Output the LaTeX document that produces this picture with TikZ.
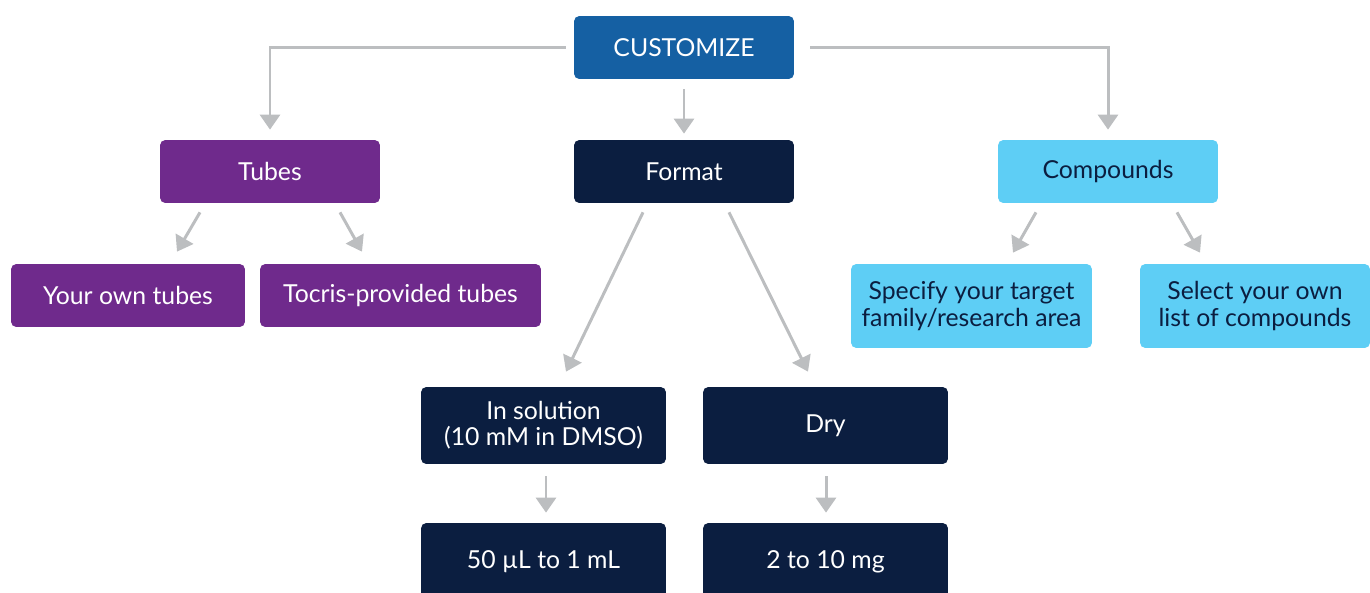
\documentclass[tikz,border=0pt]{standalone}
\usepackage{fontspec}
\setmainfont{Lato}
\usetikzlibrary{calc,arrows.meta}

\definecolor{custblue}{HTML}{1560A3}
\definecolor{tubepurple}{HTML}{6F2A8C}
\definecolor{navy}{HTML}{0B1E40}
\definecolor{skyblue}{HTML}{5ECEF5}
\definecolor{linegray}{HTML}{BCBEC0}

\tikzset{
  box/.style={rounded corners=3pt, inner sep=0pt, align=center,
    font=\fontsize{14.1}{15}\selectfont, minimum height=1.26cm},
  bluebox/.style={box, fill=custblue, text=white},
  purplebox/.style={box, fill=tubepurple, text=white},
  navybox/.style={box, fill=navy, text=white},
  skybox/.style={box, fill=skyblue, text=navy},
  link/.style={draw=linegray, line width=1.7pt, ->}
}

\begin{document}
\begin{tikzpicture}[x=0.02cm, y=-0.02cm, >={Triangle[length=0.3cm, width=0.4cm]}]
  \useasboundingbox (0,0) rectangle (1370,592);
  \clip (0,0) rectangle (1370,592);

  \node [bluebox, minimum width=4.4cm] (cust) at (684,47.5) {CUSTOMIZE};

  \node [purplebox, minimum width=4.4cm] (tubes)  at (270,171.5)  {Tubes};
  \node [navybox,   minimum width=4.4cm] (format) at (684,171.5)  {Format};
  \node [skybox,    minimum width=4.4cm] (comp)   at (1108,171.5) {Compounds};

  \node [purplebox, minimum width=4.68cm] (own)    at (128,295.5)   {Your own tubes};
  \node [purplebox, minimum width=5.62cm] (tocris) at (400.5,295.5) {Tocris-provided tubes};

  \node [skybox, minimum width=4.82cm, minimum height=1.68cm] (spec) at (971.5,306) {Specify your target\\family/research area};
  \node [skybox, minimum width=4.6cm,  minimum height=1.68cm] (sel)  at (1255,306)  {Select your own\\list of compounds};

  \node [navybox, minimum width=4.9cm, minimum height=1.54cm] (insol) at (543.5,425.5) {In solution\\(10 mM in DMSO)};
  \node [navybox, minimum width=4.9cm, minimum height=1.54cm] (dry)   at (825.5,425.5) {Dry};

  \node [navybox, minimum width=4.9cm, minimum height=1.54cm] (vol)  at (543.5,561.5) {50 µL to 1 mL};
  \node [navybox, minimum width=4.9cm, minimum height=1.54cm] (mass) at (825.5,561.5) {2 to 10 mg};

  \draw [link] ($(cust.west)+(-8,0)$) -| ($(tubes.north)+(0,-10)$);
  \draw [link] ($(cust.east)+(16,0)$) -| ($(comp.north)+(0,-10)$);
  \draw [link] ($(cust.south)+(0,10)$) -- ($(format.north)+(0,-6)$);

  \draw [link] ($(tubes.south)+(-70,9)$) -- ($(own.north)+(49,-12)$);
  \draw [link] ($(tubes.south)+(70,9)$) -- ($(tocris.north)+(-38.5,-12)$);

  \draw [link] ($(format.south)+(-41,9)$) -- ($(insol.north)+(22.5,-15)$);
  \draw [link] ($(format.south)+(45,9)$) -- ($(dry.north)+(-17.5,-15)$);

  \draw [link] ($(comp.south)+(-72,9)$) -- ($(spec.north)+(41.5,-11)$);
  \draw [link] ($(comp.south)+(69,9)$) -- ($(sel.north)+(-55,-11)$);

  \draw [link] ($(insol.south)+(2.5,12)$) -- ($(vol.north)+(2.5,-10)$);
  \draw [link] ($(dry.south)+(0.5,12)$) -- ($(mass.north)+(0.5,-10)$);
\end{tikzpicture}
\end{document}
